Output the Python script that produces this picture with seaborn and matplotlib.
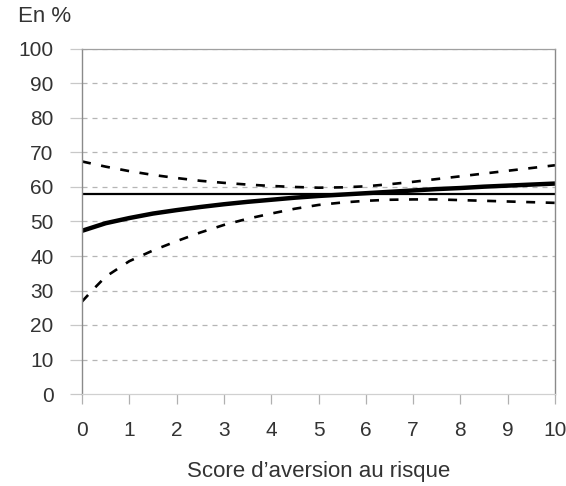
import matplotlib
matplotlib.use("Agg")
import matplotlib.pyplot as plt
import seaborn as sns
import pandas as pd

# Score d'aversion au risque (0 à 10)
score = [0, 0.5, 1, 1.5, 2, 2.5, 3, 3.5, 4, 4.5, 5, 5.5, 6, 6.5, 7, 7.5, 8, 8.5, 9, 9.5, 10]

# Probabilité estimée (en %) et intervalle de confiance
estimation = [47.3, 49.5, 51.0, 52.3, 53.3, 54.2, 55.0, 55.7, 56.3, 56.9, 57.4,
              57.8, 58.2, 58.6, 59.0, 59.4, 59.7, 60.1, 60.4, 60.7, 61.0]
borne_haute = [67.4, 65.9, 64.6, 63.5, 62.6, 61.8, 61.2, 60.7, 60.3, 60.0, 59.8,
               59.9, 60.2, 60.8, 61.5, 62.3, 63.1, 63.9, 64.7, 65.5, 66.3]
score_bas = [0, 0.25, 0.5, 1, 1.5, 2, 2.5, 3, 3.5, 4, 4.5, 5, 5.5, 6, 6.5, 7,
             7.5, 8, 8.5, 9, 9.5, 10]
borne_basse = [26.8, 30.5, 34.0, 38.5, 41.6, 44.3, 46.8, 49.0, 50.8, 52.3, 53.7,
               54.8, 55.5, 56.0, 56.3, 56.4, 56.4, 56.2, 56.0, 55.8, 55.6, 55.4]

# Moyenne de l'échantillon
moyenne = 58.0

y_ticks = [0, 10, 20, 30, 40, 50, 60, 70, 80, 90, 100]
x_ticks = [0, 1, 2, 3, 4, 5, 6, 7, 8, 9, 10]

sns.set_style("white")
plt.rcParams["font.family"] = ["Liberation Sans", "DejaVu Sans"]

fig = plt.figure(figsize=(5.66, 4.86), dpi=100)
ax = fig.add_axes([82 / 566, 1 - 394 / 486, (555 - 82) / 566, (394 - 49) / 486])

text_color = "#333333"

# Grille horizontale pointillée
for v in y_ticks[1:]:
    ax.axhline(v, color="#b5b5b5", lw=0.9, ls=(0, (4, 4)), zorder=0)

df_est = pd.DataFrame({"score": score, "valeur": estimation})
df_haut = pd.DataFrame({"score": score, "valeur": borne_haute})
df_bas = pd.DataFrame({"score": score_bas, "valeur": borne_basse})
df_moy = pd.DataFrame({"score": [x_ticks[0], x_ticks[-1]], "valeur": [moyenne, moyenne]})

sns.lineplot(data=df_moy, x="score", y="valeur", ax=ax, color="black", lw=1.6)
sns.lineplot(data=df_haut, x="score", y="valeur", ax=ax, color="black", lw=1.9,
             dashes=False, linestyle=(0, (3.4, 4.0)))
sns.lineplot(data=df_bas, x="score", y="valeur", ax=ax, color="black", lw=1.9,
             dashes=False, linestyle=(0, (3.4, 4.0)))
sns.lineplot(data=df_est, x="score", y="valeur", ax=ax, color="black", lw=3.2,
             solid_capstyle="butt")

ax.set_xlim(0, 10)
ax.set_ylim(0, 100)
ax.set_xticks(x_ticks)
ax.set_yticks(y_ticks)
ax.set_xticklabels([str(v) for v in x_ticks], fontsize=15, color=text_color)
ax.set_yticklabels([str(v) for v in y_ticks], fontsize=15, color=text_color)

ax.tick_params(axis="y", direction="out", length=8.5, width=0.9, color="#c8c8c8",
               pad=12, left=True)
ax.tick_params(axis="x", direction="out", length=7.2, width=0.9, color="#b0b0b0",
               pad=12, bottom=True)

for side in ["left", "right"]:
    ax.spines[side].set_color("#8a8a8a")
    ax.spines[side].set_linewidth(1.0)
ax.spines["top"].set_color("#a0a0a0")
ax.spines["top"].set_linewidth(0.9)
ax.spines["bottom"].set_color("#d0d0d0")
ax.spines["bottom"].set_linewidth(0.9)

ax.set_xlabel("Score d\u2019aversion au risque", fontsize=16, color=text_color, labelpad=15)
ax.set_ylabel("")
fig.text(18 / 566, 1 - 16 / 486, "En %", fontsize=16, color=text_color,
         ha="left", va="center")

fig.savefig("out.png", dpi=100)
